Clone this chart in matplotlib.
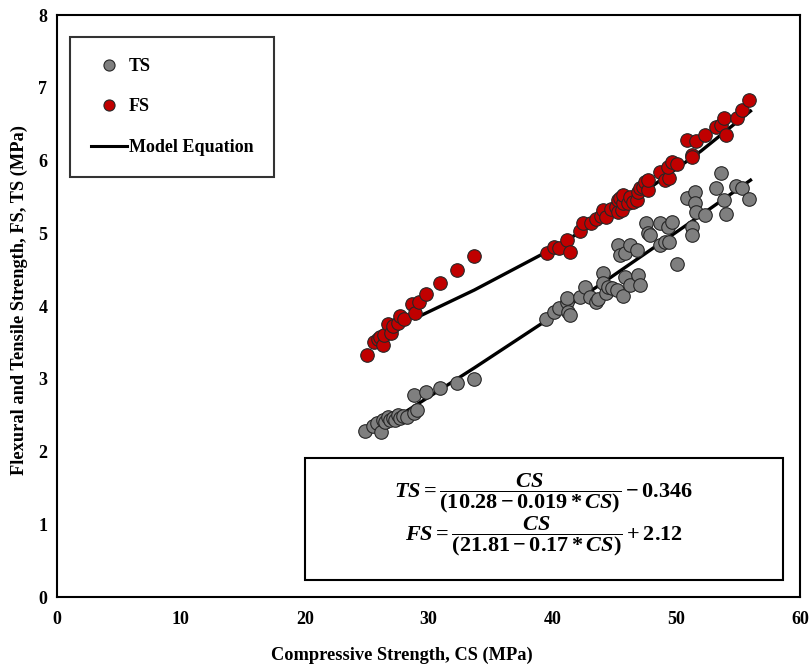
import matplotlib.pyplot as plt
from matplotlib.patches import Rectangle
from matplotlib.lines import Line2D

plt.rcParams['font.family'] = ['Liberation Serif', 'DejaVu Serif']
plt.rcParams['font.weight'] = 'bold'
plt.rcParams['mathtext.fontset'] = 'custom'
plt.rcParams['mathtext.rm'] = 'Liberation Serif:bold'
plt.rcParams['mathtext.it'] = 'Liberation Serif:italic:bold'
plt.rcParams['mathtext.bf'] = 'Liberation Serif:bold'

# tensile strength data (CS, TS)
ts_cs = [24.9, 25.5, 25.8, 26.2, 26.3, 26.5, 26.7, 26.9, 27.1, 27.3, 27.5, 27.7, 27.9,
         28.3, 28.8, 29.1, 28.8, 29.8, 30.9, 32.3, 33.7,
         39.5, 40.1, 40.5, 41.2, 41.2, 41.3, 41.4, 42.2, 42.6, 43.0, 43.5, 43.7,
         44.1, 44.1, 44.3, 44.5, 44.8, 45.2, 45.7, 45.3, 45.5, 45.9, 46.3, 46.8,
         45.9, 46.3, 46.9, 47.1, 47.6, 47.7, 47.9, 48.7, 49.3, 49.7, 48.7, 49.1,
         49.4, 50.1, 50.9, 51.5, 51.5, 51.6, 51.3, 51.3, 52.3, 53.2, 53.6, 53.9,
         54.0, 54.8, 55.3, 55.9]
ts_val = [2.28, 2.35, 2.39, 2.27, 2.43, 2.41, 2.47, 2.43, 2.46, 2.44, 2.50, 2.46, 2.49,
          2.48, 2.53, 2.57, 2.78, 2.82, 2.87, 2.94, 3.00,
          3.82, 3.92, 3.97, 4.06, 4.11, 3.92, 3.88, 4.12, 4.26, 4.12, 4.06, 4.09,
          4.45, 4.32, 4.18, 4.26, 4.25, 4.22, 4.14, 4.84, 4.70, 4.73, 4.84, 4.77,
          4.40, 4.29, 4.43, 4.29, 5.14, 5.00, 4.98, 5.14, 5.09, 5.15, 4.84, 4.88,
          4.88, 4.58, 5.48, 5.57, 5.42, 5.29, 5.09, 4.98, 5.25, 5.62, 5.83, 5.46,
          5.27, 5.65, 5.62, 5.47]

# flexural strength data (CS, FS)
fs_cs = [25.0, 25.6, 25.9, 26.1, 26.3, 26.4, 26.7, 27.0, 27.1, 27.5, 27.7, 28.0,
         28.7, 28.9, 29.2, 29.8, 30.9, 32.3, 33.7,
         39.6, 40.1, 40.5, 41.2, 41.4, 42.2, 42.5, 43.1, 43.5, 43.9, 44.1, 44.3,
         44.7, 45.1, 45.3, 45.3, 45.5, 45.6, 45.7, 45.7, 46.1, 46.3, 46.5, 46.8,
         46.9, 47.1, 47.3, 47.5, 47.7, 47.7, 48.7, 49.1, 49.4, 49.3, 49.7, 50.1,
         50.9, 51.3, 51.3, 51.6, 52.3, 53.2, 53.6, 53.9, 54.0, 54.9, 55.3, 55.9]
fs_val = [3.33, 3.50, 3.55, 3.58, 3.46, 3.60, 3.75, 3.63, 3.72, 3.77, 3.86, 3.82,
          4.03, 3.90, 4.06, 4.16, 4.32, 4.49, 4.69,
          4.73, 4.81, 4.80, 4.91, 4.74, 5.03, 5.14, 5.14, 5.20, 5.24, 5.32, 5.22,
          5.33, 5.36, 5.29, 5.46, 5.48, 5.32, 5.41, 5.53, 5.41, 5.50, 5.43, 5.46,
          5.57, 5.62, 5.64, 5.70, 5.59, 5.73, 5.84, 5.73, 5.76, 5.91, 5.98, 5.95,
          6.28, 6.08, 6.05, 6.27, 6.35, 6.46, 6.49, 6.58, 6.35, 6.58, 6.69, 6.83]

# model equation lines
model_ts_cs = [27.9, 29.1, 33.7, 39.5, 44, 48, 52, 56]
model_ts = [2.52, 2.65, 3.15, 3.80, 4.31, 4.78, 5.25, 5.73]
model_fs_cs = [28.9, 33.7, 39.6, 44, 48, 52, 56]
model_fs = [3.83, 4.22, 4.75, 5.19, 5.64, 6.13, 6.68]

fig = plt.figure(figsize=(8.1, 6.67), dpi=100)
ax = fig.add_axes([0.0704, 0.1049, 0.9173, 0.8726])

ax.plot(model_ts_cs, model_ts, color='black', lw=2.4, zorder=2)
ax.plot(model_fs_cs, model_fs, color='black', lw=2.4, zorder=2)
ax.scatter(ts_cs, ts_val, s=95, color='#7f7f7f', edgecolors='#262626', linewidths=0.8, zorder=3)
ax.scatter(fs_cs, fs_val, s=95, color='#c00000', edgecolors='#262626', linewidths=0.8, zorder=3)

ax.set_xlim(0, 60)
ax.set_ylim(0, 8)
ax.set_xticks(range(0, 61, 10))
ax.set_yticks(range(0, 9))
ax.tick_params(length=0, labelsize=13)
ax.tick_params(axis='x', pad=10)
ax.tick_params(axis='y', pad=7)
for lab in ax.get_xticklabels() + ax.get_yticklabels():
    lab.set_fontweight('bold')
for sp in ax.spines.values():
    sp.set_linewidth(1.5)
    sp.set_color('black')

ax.set_xlabel('Compressive Strength, CS (MPa)', fontsize=13.2, fontweight='bold', va='top')
ax.xaxis.set_label_coords(0.464, -0.086)
ax.set_ylabel('Flexural and Tensile Strength, FS, TS (MPa)', fontsize=13.2, fontweight='bold')
ax.yaxis.set_label_coords(-0.039, 0.51)

handles = [
    Line2D([], [], ls='none', marker='o', ms=8, mfc='#7f7f7f', mec='#262626', mew=0.8),
    Line2D([], [], ls='none', marker='o', ms=8, mfc='#c00000', mec='#262626', mew=0.8),
    Line2D([], [], color='black', lw=2.2),
]
leg = ax.legend(handles, ['TS', 'FS', 'Model Equation'], loc='upper left',
                bbox_to_anchor=(0.0175, 0.962), frameon=True, fancybox=False,
                prop={'family': 'Liberation Serif', 'weight': 'bold', 'size': 13},
                borderpad=1.15, labelspacing=1.3, handlelength=2.0, handletextpad=0.1,
                borderaxespad=0)
leg.get_frame().set_edgecolor('black')
leg.get_frame().set_linewidth(1.5)

ax.add_patch(Rectangle((0.334, 0.029), 0.643, 0.21, transform=ax.transAxes,
                       fill=False, edgecolor='black', lw=1.5, zorder=4))
ax.text(0.655, 0.178, r'$TS=\dfrac{CS}{(10.28-0.019*CS)}-0.346$', transform=ax.transAxes,
        ha='center', va='center', fontsize=16)
ax.text(0.655, 0.105, r'$FS=\dfrac{CS}{(21.81-0.17*CS)}+2.12$', transform=ax.transAxes,
        ha='center', va='center', fontsize=16)

fig.savefig('out.png', dpi=100)
